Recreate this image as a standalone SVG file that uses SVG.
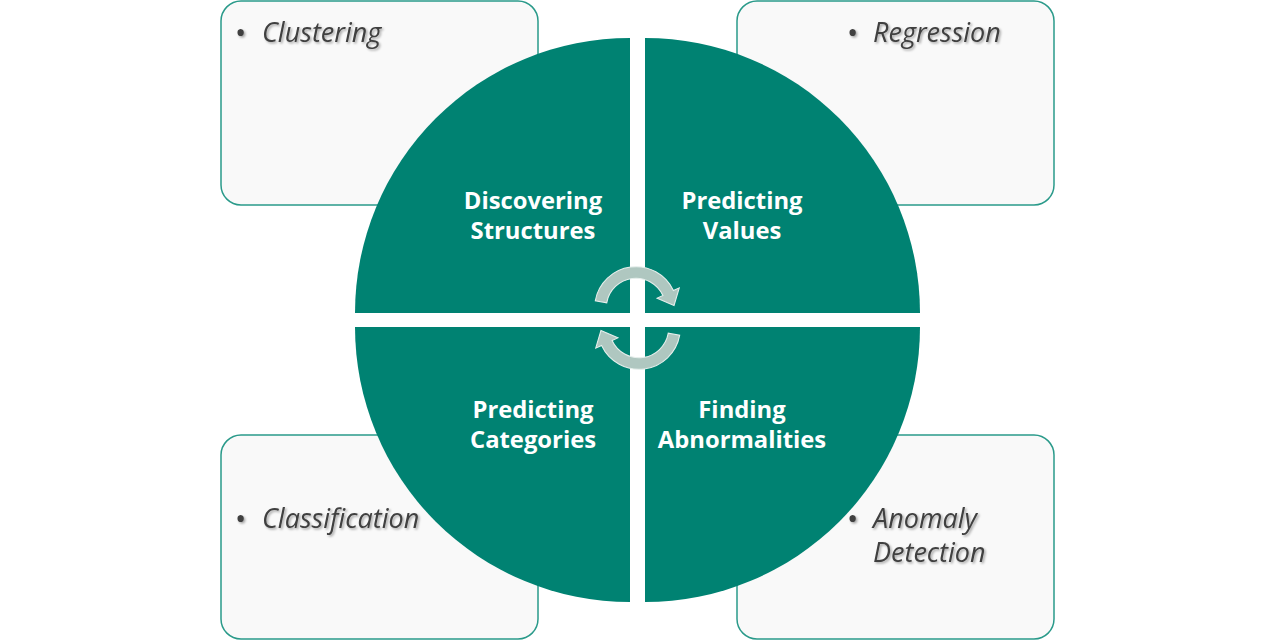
<svg xmlns="http://www.w3.org/2000/svg" width="1275" height="641" viewBox="0 0 1275 641">
  <defs>
    <style>
      .box { fill: #f9f9f9; stroke: #2a9a8a; stroke-width: 1.5; }
      .quad { fill: #008272; }
      .item { font-family: "Open Sans", "Noto Sans", "DejaVu Sans", sans-serif; font-style: italic; font-size: 27px; fill: #404040; filter: url(#soft-shadow); }
      .bullet { font-family: "Open Sans", "Noto Sans", "DejaVu Sans", sans-serif; font-size: 30px; fill: #404040; filter: url(#soft-shadow); }
      .label { font-family: "Open Sans", "Noto Sans", "DejaVu Sans", sans-serif; font-weight: bold; font-size: 23.8px; fill: #ffffff; text-anchor: middle; }
      .cycle { fill: #afc7c0; stroke: #e6efec; stroke-width: 1; }
    </style>
    <filter id="soft-shadow" x="-10%" y="-30%" width="130%" height="170%">
      <feDropShadow dx="1.5" dy="1.5" stdDeviation="1" flood-color="#000000" flood-opacity="0.35"/>
    </filter>
    <!-- curved arrow, centred on its own origin -->
    <path id="cycle-arrow" d="M-38.4,-6.8 A39,39 0 0 1 35.3,-16.5 L40.8,-19.0 L35.9,-2.4 L19.9,-9.3 L25.4,-11.8 A28,28 0 0 0 -27.6,-4.9 Z"/>
  </defs>

  <!-- detail boxes -->
  <g id="box-clustering">
    <rect class="box" x="221" y="1" width="317" height="204" rx="20"/>
    <text class="bullet" x="235" y="43">•</text>
    <text class="item" x="262" y="42">Clustering</text>
  </g>
  <g id="box-regression">
    <rect class="box" x="737" y="1" width="317" height="204" rx="20"/>
    <text class="bullet" x="847" y="43">•</text>
    <text class="item" x="873" y="42">Regression</text>
  </g>
  <g id="box-classification">
    <rect class="box" x="221" y="435" width="317" height="204" rx="20"/>
    <text class="bullet" x="235" y="529">•</text>
    <text class="item" x="262" y="528">Classification</text>
  </g>
  <g id="box-anomaly">
    <rect class="box" x="737" y="435" width="317" height="204" rx="20"/>
    <text class="bullet" x="847" y="529">•</text>
    <text class="item" x="873" y="528">Anomaly</text>
    <text class="item" x="873" y="562">Detection</text>
  </g>

  <!-- circle quadrants -->
  <g id="quad-discovering">
    <path class="quad" d="M630,313 L355,313 A275,275 0 0 1 630,38 Z"/>
    <text class="label" x="533" y="209">Discovering</text>
    <text class="label" x="533" y="239">Structures</text>
  </g>
  <g id="quad-values">
    <path class="quad" d="M645,313 L645,38 A275,275 0 0 1 920,313 Z"/>
    <text class="label" x="742" y="209">Predicting</text>
    <text class="label" x="742" y="239">Values</text>
  </g>
  <g id="quad-categories">
    <path class="quad" d="M630,327 L630,602 A275,275 0 0 1 355,327 Z"/>
    <text class="label" x="533" y="418">Predicting</text>
    <text class="label" x="533" y="448">Categories</text>
  </g>
  <g id="quad-abnormalities">
    <path class="quad" d="M645,327 L920,327 A275,275 0 0 1 645,602 Z"/>
    <text class="label" x="742" y="418">Finding</text>
    <text class="label" x="742" y="448">Abnormalities</text>
  </g>

  <!-- cycle connectors -->
  <g id="connectors">
    <use href="#cycle-arrow" class="cycle" transform="translate(636,308) scale(1.06)"/>
    <use href="#cycle-arrow" class="cycle" transform="translate(639,328) rotate(180) scale(1.06)"/>
  </g>
</svg>
